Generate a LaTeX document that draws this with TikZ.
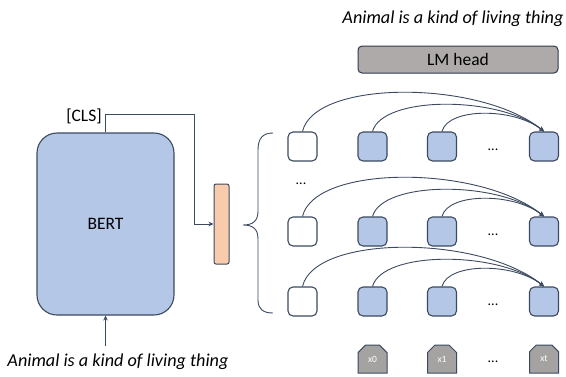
\documentclass[tikz,border=0pt]{standalone}
\usepackage{fontspec}
\setmainfont{Carlito}
\usetikzlibrary{arrows.meta,shapes.misc}
\definecolor{boxblue}{HTML}{B4C7E7}
\definecolor{edge}{HTML}{3C4A60}
\definecolor{peach}{HTML}{F8CBAD}
\definecolor{headgray}{HTML}{AEAAAA}
\definecolor{tokgray}{HTML}{A5A2A2}
\tikzset{
  sq/.style={draw=edge,line width=1.1pt,rounded corners=5pt,minimum width=29pt,minimum height=29pt,inner sep=0pt},
  bsq/.style={sq,fill=boxblue},
  wsq/.style={sq,fill=white},
  tok/.style={chamfered rectangle,chamfered rectangle corners={north west,north east},chamfered rectangle xsep=5pt,chamfered rectangle ysep=5pt,draw=edge,line width=1pt,fill=tokgray,minimum width=29pt,minimum height=28pt,inner sep=0pt,text=white,font=\fontsize{9.5}{10}\selectfont},
  conn/.style={draw=edge,line width=0.9pt,-{Stealth[length=5pt,width=4.5pt]}},
  dots/.style={font=\fontsize{14}{14}\selectfont},
  txt/.style={font=\fontsize{17.5}{20}\selectfont,inner sep=0pt},
  lbl/.style={font=\fontsize{18.2}{20}\selectfont\itshape,inner sep=0pt}
}
\begin{document}
\begin{tikzpicture}[x=1pt,y=-1pt]
\useasboundingbox (0,0) rectangle (566,376);
% titles
\node[lbl] (toptext) at (453,19) {Animal is a kind of living thing};
\node[lbl] (bottext) at (118,362) {Animal is a kind of living thing};
% LM head
\node[txt,draw=edge!80!black,line width=1pt,fill=headgray,rounded corners=4pt,minimum width=200pt,minimum height=27pt] (lm) at (458,59.5) {LM head};
% BERT
\node[txt,draw=edge,line width=1.1pt,fill=boxblue,rounded corners=20pt,minimum width=137pt,minimum height=182pt] (bert) at (105.5,224) {BERT};
\node[txt] (cls) at (84,116) {[CLS]};
% orange vector
\node[draw=edge,line width=1pt,fill=peach,rounded corners=2pt,minimum width=15pt,minimum height=80pt,inner sep=0pt] (vec) at (221.5,224) {};
\coordinate (c1) at (194,114);
\draw[conn] (bert.north) |- (c1) |- (vec.west);
\coordinate (inp) at (105.5,346);
\draw[conn] (inp) -- (bert.south);
% brace
\draw[edge,line width=0.9pt] (273,133) .. controls (263,133) and (258,138) .. (258,150) -- (258,211) .. controls (258,221) and (253,225) .. (243,225) .. controls (253,225) and (258,229) .. (258,239) -- (258,300) .. controls (258,309) and (263,313) .. (273,313);
% grid
\foreach \r/\y in {1/146.5,2/231.5,3/301.5}{
  \node[wsq] (r\r c1) at (302.5,\y) {};
  \node[bsq] (r\r c2) at (372.5,\y) {};
  \node[bsq] (r\r c3) at (442,\y) {};
  \node[bsq] (r\r c4) at (544,\y) {};
  \node[dots] (r\r d) at (493,\y+3) {...};
  \draw[conn] (r\r c1.north) .. controls +(12,-52) and +(-64,-52) .. (r\r c4.north);
  \draw[conn] (r\r c2.north) .. controls +(10,-36) and +(-45,-36) .. (r\r c4.north);
  \draw[conn] (r\r c3.north) .. controls +(6,-24) and +(-30,-24) .. (r\r c4.north);
}
\node[dots] (ld) at (301,184) {...};
% tokens
\node[tok] (t0) at (372.5,359) {x0};
\node[tok] (t1) at (442,359) {x1};
\node[tok] (tt) at (544,359) {xt};
\node[dots] (td) at (493,362) {...};
\end{tikzpicture}
\end{document}
